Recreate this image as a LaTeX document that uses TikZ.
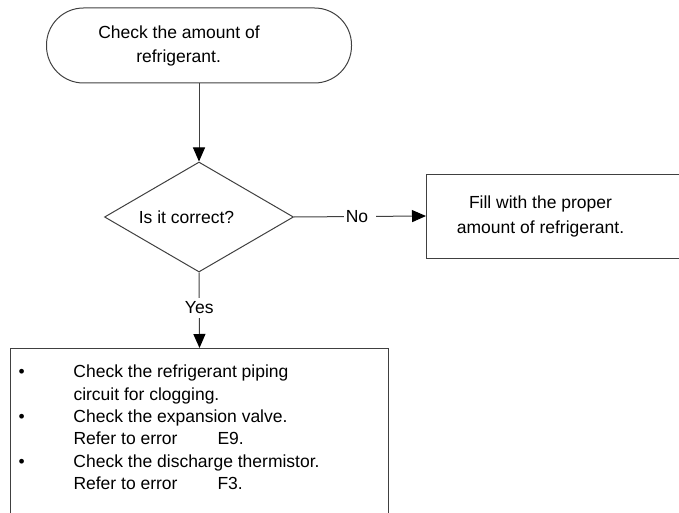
\documentclass[tikz,border=0pt]{standalone}
\usepackage{fontspec}
\setmainfont{Liberation Sans}
\usepackage{tikz}
\usetikzlibrary{arrows.meta,positioning,shapes.geometric}
\definecolor{fc-line}{HTML}{404040}

\begin{document}
\begin{tikzpicture}[x=1pt, y=-1pt, >={Triangle[length=14pt,width=12pt,color=black]},
    every node/.style={font=\fontsize{17.5}{24.5}\selectfont},
    link/.style={draw=fc-line, line width=1pt},
    lbl/.style={fill=white, inner xsep=2pt, inner ysep=4pt}]
    \useasboundingbox (0,0) rectangle (679,513);
    \clip (0,0) rectangle (679,513);
    % start and question
    \node[link, rectangle, rounded corners=37pt, minimum width=305pt, minimum height=75pt] (start) at (199,45.5)
        {\begin{tabular}{@{}l@{}}Check the amount of\\\hspace*{38pt}refrigerant.\end{tabular}\hspace*{40pt}};
    \node[link, diamond, aspect=1.72, inner sep=0pt, minimum width=189pt, minimum height=110pt] (check) at (199,217)
        {Is it correct?\hspace*{25pt}};
    \node[link, rectangle, minimum width=274pt, minimum height=84pt, anchor=west] (fill) at (426,216)
        {\begin{tabular}{@{}c@{}}Fill with the proper\\amount of refrigerant.\end{tabular}\hspace*{46pt}};
    % what to check when the amount is correct
    \node[link, rectangle, anchor=north west, inner xsep=8pt, inner ysep=16.5pt, minimum width=378pt] (todo) at (10,348)
        {\parbox[t][200pt][t]{362pt}{\fontsize{17.5}{22.4}\selectfont
        \makebox[55pt][l]{\textbullet}Check the refrigerant piping\\
        \hspace*{55pt}circuit for clogging.\\
        \makebox[55pt][l]{\textbullet}Check the expansion valve.\\
        \hspace*{55pt}Refer to error\hspace{40pt}E9.\\
        \makebox[55pt][l]{\textbullet}Check the discharge thermistor.\\
        \hspace*{55pt}Refer to error\hspace{40pt}F3.}};
    % connectors
    \draw[link, ->] (start) -- (check);
    \draw[link, ->] (check.east) -- node[lbl, pos=0.5] (no) {No\hspace*{6pt}} (fill.west);
    \draw[link, ->] (check.south) -- node[lbl, pos=0.47] (yes) {Yes} (todo.north);
\end{tikzpicture}
\end{document}
